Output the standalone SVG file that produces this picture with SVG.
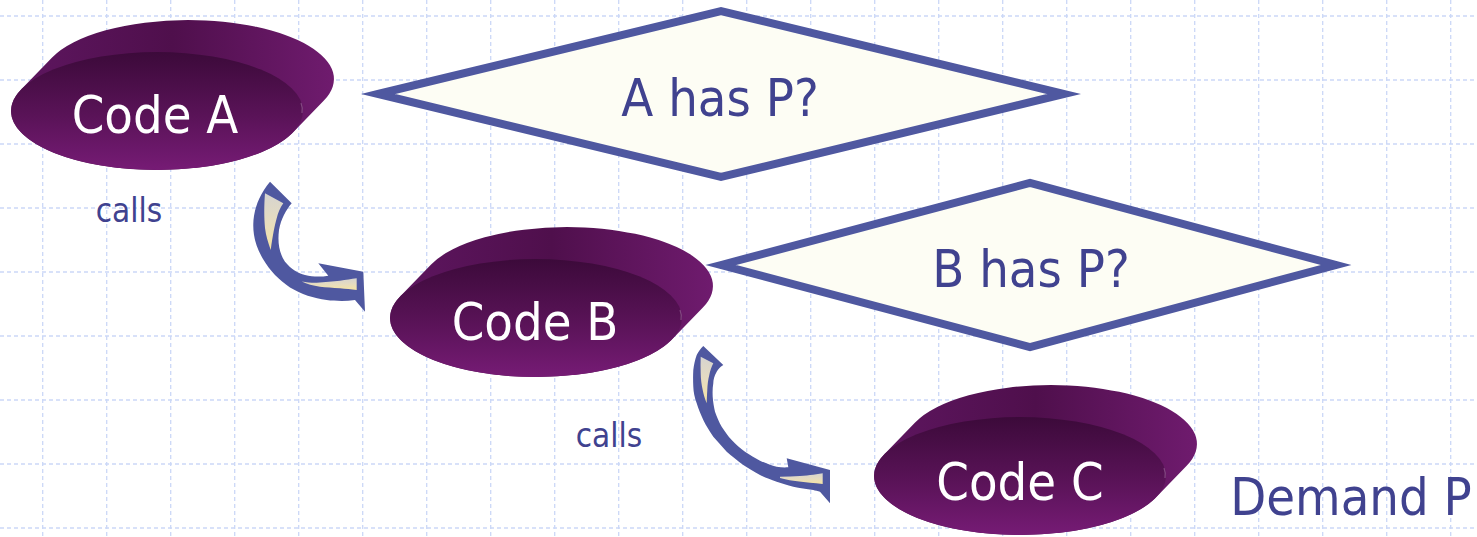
<svg xmlns="http://www.w3.org/2000/svg" xmlns:xlink="http://www.w3.org/1999/xlink" width="1477" height="537" viewBox="0 0 1477 537">
  <style>
    .grid { stroke: #cbd8f7; stroke-width: 1.3; stroke-dasharray: 4 3; fill: none; }
    .decision { fill: #fdfdf4; stroke: #4f58a0; stroke-width: 8; stroke-linejoin: miter; stroke-miterlimit: 6; }
    .label { font-family: "DejaVu Sans Condensed", "DejaVu Sans", sans-serif; font-stretch: condensed; text-anchor: middle; }
    .code { fill: #ffffff; font-size: 52px; }
    .navy { fill: #40428f; }
    .big { font-size: 52px; }
    .small { font-size: 33px; }
    .arrow-edge { fill: #4f58a0; }
    .arrow-core { fill: url(#arrowFill); }
  </style>
  <defs>
    <linearGradient id="sideFill" x1="0" y1="0" x2="1" y2="0">
      <stop offset="0" stop-color="#5e1660"/>
      <stop offset="0.5" stop-color="#4f0f4c"/>
      <stop offset="1" stop-color="#6f1b6e"/>
    </linearGradient>
    <linearGradient id="faceFill" x1="0" y1="0" x2="0" y2="1">
      <stop offset="0" stop-color="#3c0a3a"/>
      <stop offset="0.55" stop-color="#5a1358"/>
      <stop offset="1" stop-color="#761b75"/>
    </linearGradient>
    <linearGradient id="arrowFill" x1="0" y1="0" x2="0" y2="1">
      <stop offset="0" stop-color="#d6d4d0"/>
      <stop offset="0.5" stop-color="#e6dcc0"/>
      <stop offset="1" stop-color="#f5e4a4"/>
    </linearGradient>
    <!-- disc-shaped code block, centred on its top face -->
    <g id="disc">
      <path d="M135.9,21.5 A146,59 0 0 1 0,59 A146,59 0 0 1 -135.9,-21.5 L-104.9,-53.5 A146,59 0 0 1 31,-91 A146,59 0 0 1 166.9,-10.5 Z" fill="url(#sideFill)"/>
      <ellipse cx="0" cy="0" rx="146" ry="59" fill="url(#faceFill)"/>
      <path d="M144,-8 Q146,-3 145,2" fill="none" stroke="#b98ab8" stroke-width="1.2" opacity="0.45"/>
    </g>
  </defs>

  <rect width="1477" height="537" fill="#ffffff"/>

  <!-- background grid -->
  <path class="grid" d="M42.7,0V537 M106.7,0V537 M170.7,0V537 M234.7,0V537 M298.7,0V537 M362.7,0V537 M426.7,0V537 M490.7,0V537 M554.7,0V537 M618.7,0V537 M682.7,0V537 M746.7,0V537 M810.7,0V537 M874.7,0V537 M938.7,0V537 M1002.7,0V537 M1066.7,0V537 M1130.7,0V537 M1194.7,0V537 M1258.7,0V537 M1322.7,0V537 M1386.7,0V537 M1450.7,0V537 M0,16H1477 M0,80H1477 M0,144H1477 M0,208H1477 M0,272H1477 M0,336H1477 M0,400H1477 M0,464H1477 M0,528H1477"/>

  <!-- decisions -->
  <g id="decision-a">
    <polygon class="decision" points="378,94 721,11 1064,94 721,177"/>
    <text class="label navy big" x="720" y="116">A has P?</text>
  </g>
  <g id="decision-b">
    <polygon class="decision" points="721,265 1030,183 1336,265 1030,347"/>
    <text class="label navy big" x="1031" y="287">B has P?</text>
  </g>

  <!-- code blocks -->
  <g id="code-a">
    <use xlink:href="#disc" href="#disc" transform="translate(157,111)"/>
    <text class="label code" x="155" y="133">Code A</text>
  </g>
  <g id="code-b">
    <use xlink:href="#disc" href="#disc" transform="translate(536,318)"/>
    <text class="label code" x="535" y="340">Code B</text>
  </g>
  <g id="code-c">
    <use xlink:href="#disc" href="#disc" transform="translate(1020,476)"/>
    <text class="label code" x="1020" y="500">Code C</text>
  </g>

  <!-- call connectors -->
  <g id="connectors">
    <g id="call-a-b">
      <path class="arrow-edge" d="M270,181.7 L291.7,203.3 C286,210 281,219 279,230 C277.5,242 279,253 285,261.7 C291,269 298,273.5 305,275 C313,277 321,277 328.3,275.7 L318.3,263.3 L363.3,271.7 L365,311.7 L355,300 C345,301.5 335,301 326.7,300 C314,298.5 301,294 290,287.5 C279,280 270,271 263,259 C256,247 253,236 253.3,224 C253.5,210 259,195 270,181.7 Z"/>
      <path class="arrow-core" d="M265,193.3 L283.3,203.3 C280,208 278,213 276.7,218.3 C274.5,226 273,234 270.7,250 C268,242 266,236 265,228 C264,218 264,205 265,193.3 Z"/>
      <path class="arrow-core" d="M301.7,281.5 C307,282.5 312,282.8 316.7,282.7 C325,282.3 333,281.5 340,280.8 C346,280 351,279 356.7,278.3 L356.7,290 C351,289.3 346,288.8 340,288.3 C333,287.8 326,287.3 320,286.7 C313,285.7 307,284.2 301.7,281.5 Z"/>
    </g>
    <g id="call-b-c">
      <path class="arrow-edge" d="M703.3,346 L723.3,365 C720,367 718,369.5 716.7,371.7 C714,376 713.4,380 713.3,383.3 C712.5,388 712.5,392 712.7,396.7 C713,402 714,407 715,411.7 C717,417 719,422 721.7,426.7 C724.5,431 728,436 731.7,440 C736,444.5 740,448 745,451.7 C750,455 755,458 760,460.7 C766,463.5 771,465.5 776.7,466.7 C781,467.5 785,467.6 788.3,467.3 L786.7,458.3 L830,470 L830,503.3 L820,491.7 C818,491 815,490.5 813.3,490 C806,489 800,488 793.3,486.7 C787,485 782,483.5 776.7,481.7 C770,479 765,477.5 760,475 C754,471.5 748.5,468.5 743.3,465 C737.5,460.5 731.5,456 726.7,451.7 C722,446.5 717.5,441.5 713.3,436.7 C709.5,431 706,425.5 703.3,420 C700.5,414 698.5,409 696.7,403.3 C694.5,397.5 693.5,392 693.3,386.7 C693,381 693,375 693.3,370 C694,364.5 695,359.5 696.7,355 C698.5,351.5 700.5,348.5 703.3,346 Z"/>
      <path class="arrow-core" d="M700.7,356.7 L713.3,363.3 C711.5,367 710,371 709.3,375 C708,380 707.5,385 707.3,390 C707,395 706.8,399 706.7,403.3 C705,399 703.5,394.5 702.7,390 C701.5,384.5 700.8,379 700.7,373.3 C700.5,367.5 700.5,362 700.7,356.7 Z"/>
      <path class="arrow-core" d="M780,476.7 C787,476.6 793.5,476.4 800,476 C805,475.7 809,475.2 813.3,474.7 C816.5,474.3 819.5,473.8 822.7,473.3 L822.7,484 C818.5,483.5 814,483 810,482.7 C804,482 798.5,481.4 793.3,480.7 C788.5,480 784,479.2 780,478 Z"/>
    </g>
  </g>

  <!-- free labels -->
  <g id="labels">
    <text class="label navy small" x="129" y="222">calls</text>
    <text class="label navy small" x="609" y="447">calls</text>
    <text class="label navy big" x="1351" y="515">Demand P</text>
  </g>
</svg>
